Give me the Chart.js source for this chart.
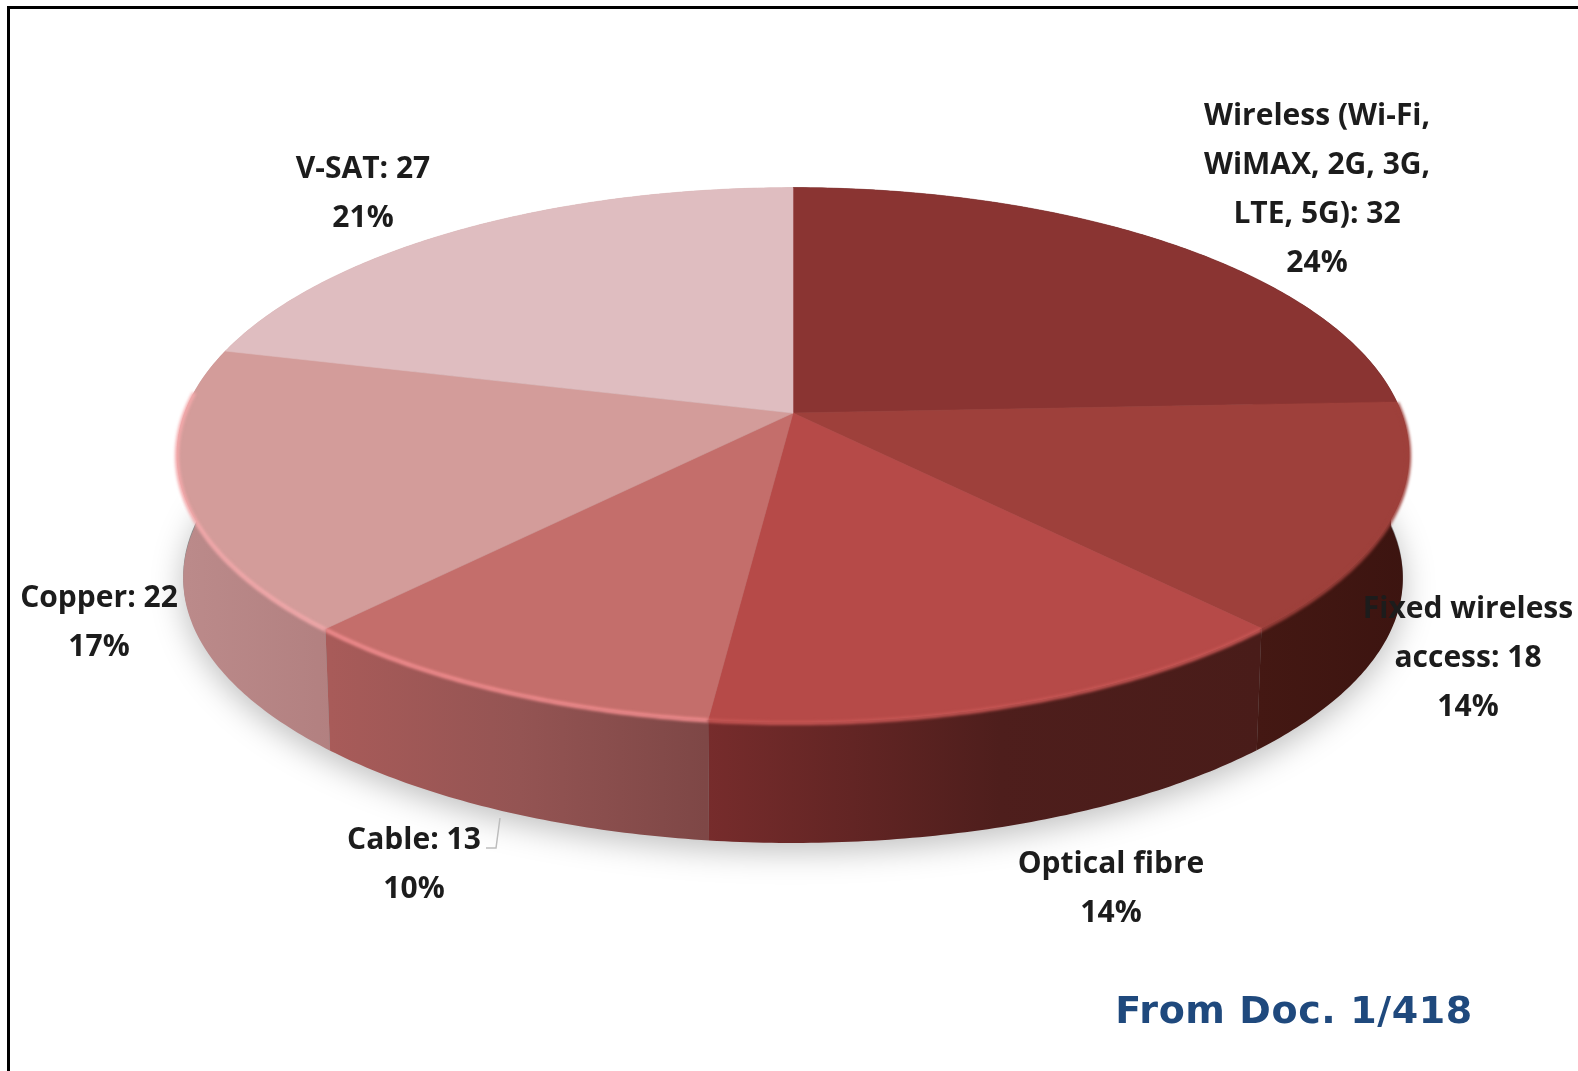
<!DOCTYPE html>
<html>
<head>
<meta charset="utf-8">
<title>Pie</title>
<script src="https://cdn.jsdelivr.net/npm/chart.js@4/dist/chart.umd.min.js"></script>
<style>
html, body { margin: 0; padding: 0; background: #fff; overflow: hidden; }
#frame { position: absolute; left: 7px; top: 6px; width: 1569px; height: 1070px; border-left: 3px solid #000; border-top: 3px solid #000; border-right: 1px solid #444; }
#chart { position: absolute; left: 0; top: 0; }
</style>
</head>
<body>
<div id="frame"></div>
<canvas id="chart" width="1578" height="1071"></canvas>
<script>
// values (optical fibre has no printed number, 14% of 130 -> 18)
const categories = ['Wireless (Wi-Fi, WiMAX, 2G, 3G, LTE, 5G)', 'Fixed wireless access', 'Optical fibre', 'Cable', 'Copper', 'V-SAT'];
const values = [32, 18, 18, 13, 22, 27];
const percents = ['24%', '14%', '14%', '10%', '17%', '21%'];

const labelLines = [
	['Wireless (Wi-Fi,', 'WiMAX, 2G, 3G,', 'LTE, 5G): 32', percents[0]],
	['Fixed wireless', 'access: 18', percents[1]],
	['Optical fibre', percents[2]],
	['Cable: 13', percents[3]],
	['Copper: 22', percents[4]],
	['V-SAT: 27', percents[5]]
];

// styles
const topColors = ['#8a3432', '#9e403b', '#b64a48', '#c46e6b', '#d39c9a', '#dfbdc0'];
const rimColors = [null, '#9e403b', '#c85654', '#f28c8e', '#f4a9ab', null];
const sideStops = [
	[[1258, '#3d1512'], [1410, '#3d1512']],
	[[1258, '#441813'], [1410, '#3c1410']],
	[[705, '#772c2c'], [1000, '#4e1e1c'], [1258, '#491c19']],
	[[330, '#a85b59'], [520, '#945453'], [705, '#7e4746']],
	[[187, '#bb8a8a'], [332, '#b28080']],
	[[178, '#c9a0a0'], [800, '#c9a0a0']]
];

// label anchors: centre x and first baseline
const labelX = [1317, 1468, 1111, 414, 99, 363];
const labelY = [125, 618, 873, 849, 607, 178];
const lineGap = 49;

// perspective of the disc: unit circle -> screen
const apexX = 793, apexY = 413;
const tiltA = 608.4, tiltB = 260.7, tiltK = 0.1565;
const bottomScale = 0.99, bottomApexY = 537;
const angleWarp = 0.027; // the source picture runs a bit behind the true angles

function project(angle, scale, cy) {
	const turned = angle + Math.PI / 2;
	const a = angle - angleWarp * Math.sin(turned / 2);
	const X = Math.cos(a), Y = Math.sin(a);
	const d = 1 - tiltK * Y;
	return [apexX + scale * tiltA * X / d, cy + scale * tiltB * Y / d];
}

function tracePoints(ctx, arc, scale, cy, reverse) {
	const n = Math.max(8, Math.ceil((arc.endAngle - arc.startAngle) * 90));
	for (let i = 0; i <= n; i++) {
		const t = reverse ? n - i : i;
		const a = arc.startAngle + (arc.endAngle - arc.startAngle) * t / n;
		const p = project(a, scale, cy);
		ctx.lineTo(p[0], p[1]);
	}
}

const discPlugin = {
	id: 'disc',
	beforeDatasetsDraw(chart) {
		const ctx = chart.ctx;
		const arcs = chart.getDatasetMeta(0).data;

		// soft shadow under the disc
		ctx.save();
		ctx.shadowColor = 'rgba(0,0,0,0.26)';
		ctx.shadowBlur = 32;
		ctx.shadowOffsetY = 10;
		ctx.fillStyle = '#888';
		ctx.beginPath();
		arcs.forEach(function (arc) { tracePoints(ctx, arc, bottomScale, bottomApexY - 2, false); });
		ctx.closePath();
		ctx.fill();
		ctx.restore();

		// side walls
		arcs.forEach(function (arc, i) {
			const stops = sideStops[i];
			const g = ctx.createLinearGradient(stops[0][0], 0, stops[stops.length - 1][0], 0);
			const span = stops[stops.length - 1][0] - stops[0][0];
			stops.forEach(function (s) { g.addColorStop((s[0] - stops[0][0]) / span, s[1]); });
			ctx.fillStyle = g;
			ctx.beginPath();
			tracePoints(ctx, arc, 1, apexY, false);
			tracePoints(ctx, arc, bottomScale, bottomApexY, true);
			ctx.closePath();
			ctx.fill();
		});

		// top faces
		arcs.forEach(function (arc, i) {
			ctx.fillStyle = topColors[i];
			ctx.strokeStyle = topColors[i];
			ctx.lineWidth = 0.6;
			ctx.beginPath();
			ctx.moveTo(apexX, apexY);
			tracePoints(ctx, arc, 1, apexY, false);
			ctx.closePath();
			ctx.fill();
			ctx.stroke();
		});

		// light rim along the front edge
		ctx.save();
		ctx.filter = 'blur(1.4px)';
		ctx.lineCap = 'butt';
		arcs.forEach(function (arc, i) {
			if (!rimColors[i]) return;
			const from = arc.startAngle;
			const to = Math.min(arc.endAngle, Math.PI + 0.1);
			if (to <= from) return;
			ctx.strokeStyle = rimColors[i];
			ctx.lineWidth = 4;
			ctx.beginPath();
			const first = project(from, 1, apexY + 1);
			ctx.moveTo(first[0], first[1]);
			tracePoints(ctx, { startAngle: from, endAngle: to }, 1, apexY + 1, false);
			ctx.stroke();
		});
		ctx.restore();
		return false;
	},
	afterDraw(chart) {
		const ctx = chart.ctx;
		ctx.save();
		ctx.textAlign = 'center';
		ctx.textBaseline = 'alphabetic';
		ctx.fillStyle = '#1c1c1c';
		ctx.font = '700 30px "Open Sans"';
		labelLines.forEach(function (lines, i) {
			lines.forEach(function (line, j) {
				ctx.fillText(line, labelX[i], labelY[i] + j * lineGap);
			});
		});

		// leader line of the cable label
		ctx.strokeStyle = '#bdbdbd';
		ctx.lineWidth = 1.5;
		ctx.beginPath();
		ctx.moveTo(500, 818);
		ctx.lineTo(496, 848);
		ctx.lineTo(486, 848);
		ctx.stroke();

		ctx.fillStyle = '#1f497d';
		ctx.font = 'bold 38px "DejaVu Sans"';
		ctx.letterSpacing = '0.6px';
		ctx.fillText('From Doc. 1/418', 1294, 1023);
		ctx.restore();
	}
};

window.onload = function () {
	new Chart(document.getElementById('chart'), {
		type: 'pie',
		data: {
			labels: categories,
			datasets: [{ data: values, backgroundColor: topColors, borderWidth: 0 }]
		},
		options: {
			responsive: false,
			animation: false,
			plugins: { legend: { display: false }, tooltip: { enabled: false } }
		},
		plugins: [discPlugin]
	});
};
</script>
</body>
</html>
